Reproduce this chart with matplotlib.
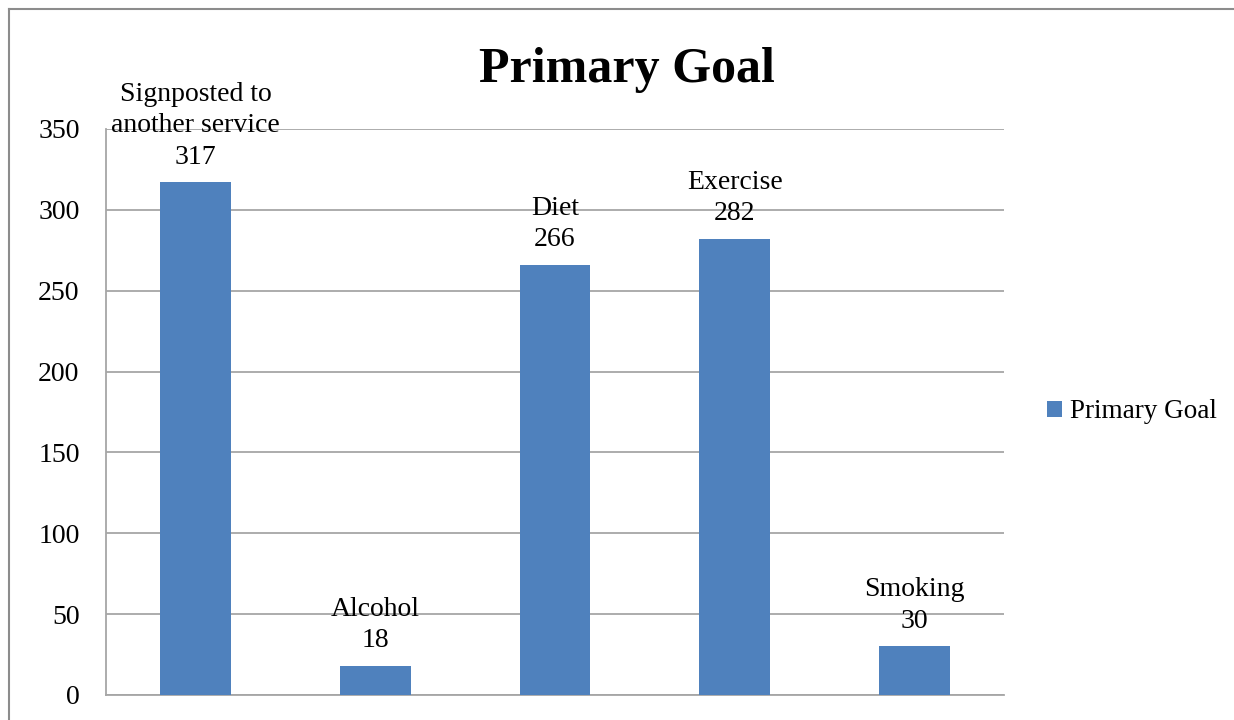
import matplotlib.pyplot as plt
from matplotlib.lines import Line2D

plt.rcParams['font.family'] = ['Liberation Serif', 'DejaVu Serif']

categories = ['Signposted to\nanother service', 'Alcohol', 'Diet', 'Exercise', 'Smoking']
counts = [317, 18, 266, 282, 30]
yticks = [0, 50, 100, 150, 200, 250, 300, 350]

fig = plt.figure(figsize=(12.34, 7.2), dpi=100)
ax = fig.add_axes([106 / 1234, 25 / 720, 898 / 1234, 566 / 720])

x = list(range(len(categories)))
bars = ax.bar(x, counts, width=0.395, color='#4F81BD', label='Primary Goal', zorder=3)

ax.set_xlim(-0.5, len(categories) - 0.5)
ax.set_ylim(0, 350)
ax.set_yticks(yticks)
ax.set_xticks([])
ax.tick_params(axis='y', length=0, labelsize=20, pad=19)
ax.grid(axis='y', color='#a6a6a6', linewidth=1.3, zorder=0)
for side in ['top', 'right']:
    ax.spines[side].set_visible(False)
ax.spines['left'].set_color('#a6a6a6')
ax.spines['bottom'].set_color('#a6a6a6')
ax.spines['left'].set_linewidth(1.3)
ax.spines['bottom'].set_linewidth(1.3)

# name and value above each bar
for xi, name, val in zip(x, categories, counts):
    ax.annotate(f'{name}\n{val}', (xi, val), xytext=(0, 9), textcoords='offset points',
                ha='center', va='bottom', fontsize=20, linespacing=1.35, zorder=4)

fig.text(627 / 1234, 1 - 82 / 720, 'Primary Goal', ha='center', va='baseline',
         fontsize=36, fontweight='bold')

ax.legend(loc='center left', bbox_to_anchor=(1.021, 0.5), frameon=False,
          fontsize=19.5, handlelength=0.55, handleheight=0.55, handletextpad=0.3)

# outer chart frame
fig.add_artist(Line2D([9 / 1234, 9 / 1234], [0, 1 - 9 / 720], color='#8c8c8c', linewidth=1.5,
                      transform=fig.transFigure))
fig.add_artist(Line2D([9 / 1234, 1], [1 - 9 / 720, 1 - 9 / 720], color='#8c8c8c', linewidth=1.5,
                      transform=fig.transFigure))

fig.savefig('out.png', dpi=100)
